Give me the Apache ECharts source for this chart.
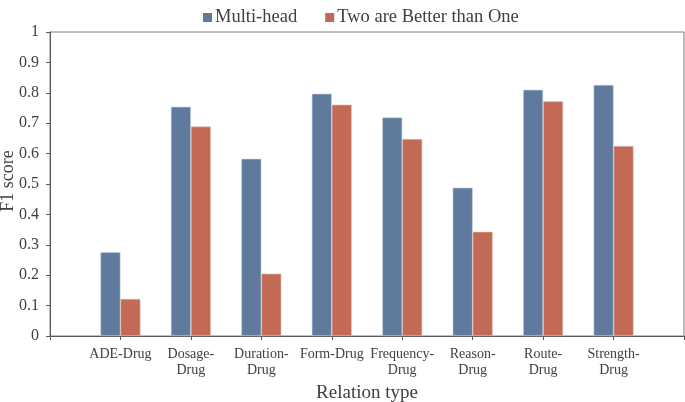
<!DOCTYPE html>
<html>
<head>
<meta charset="utf-8">
<script src="https://cdn.jsdelivr.net/npm/echarts@6/dist/echarts.min.js"></script>
<style>html,body{margin:0;padding:0;background:#fff;}#c{width:685px;height:402px;}</style>
</head>
<body>
<div id="c"></div>
<script>
const categories = ['ADE-Drug', 'Dosage-\nDrug', 'Duration-\nDrug', 'Form-Drug', 'Frequency-\nDrug', 'Reason-\nDrug', 'Route-\nDrug', 'Strength-\nDrug'];
const multiHead = [0.276, 0.754, 0.583, 0.797, 0.719, 0.488, 0.810, 0.826];
const twoBetter = [0.122, 0.689, 0.205, 0.761, 0.648, 0.343, 0.772, 0.625];
const seriesNames = ['Multi-head', 'Two are Better than One'];
const yTicks = [0, 0.1, 0.2, 0.3, 0.4, 0.5, 0.6, 0.7, 0.8, 0.9, 1];

// pad with empty slots at both ends (axis drawn "on tick marks")
const cats = [''].concat(categories, ['']);
const pad = arr => ['-'].concat(arr, ['-']);

const font = '"Liberation Serif", "Times New Roman", serif';
const chart = echarts.init(document.getElementById('c'), null, {renderer: 'canvas'});
chart.setOption({
  animation: false,
  textStyle: {fontFamily: font},
  legend: {
    top: 3, left: 198,
    itemWidth: 9, itemHeight: 9, itemGap: 28,
    icon: 'rect',
    itemStyle: {borderWidth: 0},
    textStyle: {fontFamily: font, fontSize: 18.5, color: '#404040', padding: [0, 0, 0, -2]},
    data: seriesNames
  },
  grid: {left: 50, right: 1, top: 32, bottom: 66, outerBoundsMode: 'none', containLabel: false,
         show: true, borderColor: '#7f7f7f', borderWidth: 1, backgroundColor: 'transparent'},
  xAxis: {
    type: 'category',
    data: cats,
    boundaryGap: false,
    axisLine: {lineStyle: {color: '#595959', width: 1}},
    axisTick: {show: true, length: 4, alignWithLabel: true, lineStyle: {color: '#595959'}},
    axisLabel: {interval: 0, fontFamily: font, fontSize: 14, color: '#404040', margin: 10, lineHeight: 16},
    name: 'Relation type',
    nameLocation: 'middle',
    nameGap: 48,
    nameMoveOverlap: false,
    nameTextStyle: {fontFamily: font, fontSize: 19, color: '#404040'},
    splitLine: {show: false}
  },
  yAxis: {
    type: 'value',
    min: yTicks[0], max: yTicks[yTicks.length - 1], interval: 0.1,
    axisLine: {show: true, lineStyle: {color: '#595959', width: 1}},
    axisTick: {show: true, length: 4, lineStyle: {color: '#595959'}},
    axisLabel: {fontFamily: font, fontSize: 16, color: '#404040', margin: 11,
      formatter: v => String(Math.round(v * 10) / 10)},
    splitLine: {show: false},
    name: 'F1 score',
    nameLocation: 'middle',
    nameRotate: 90,
    nameGap: 33,
    nameMoveOverlap: false,
    nameTextStyle: {fontFamily: font, fontSize: 18, color: '#404040', padding: [0, 0, 0, 6]}
  },
  series: [
    {name: seriesNames[0], type: 'bar', data: pad(multiHead), barWidth: 20, barGap: '0%',
     itemStyle: {color: '#5F7A9C', borderColor: '#c9d3e0', borderWidth: 0.6}},
    {name: seriesNames[1], type: 'bar', data: pad(twoBetter), barWidth: 20, barGap: '0%',
     itemStyle: {color: '#C26A56', borderColor: '#e6c3bb', borderWidth: 0.6}}
  ]
});
</script>
</body>
</html>
